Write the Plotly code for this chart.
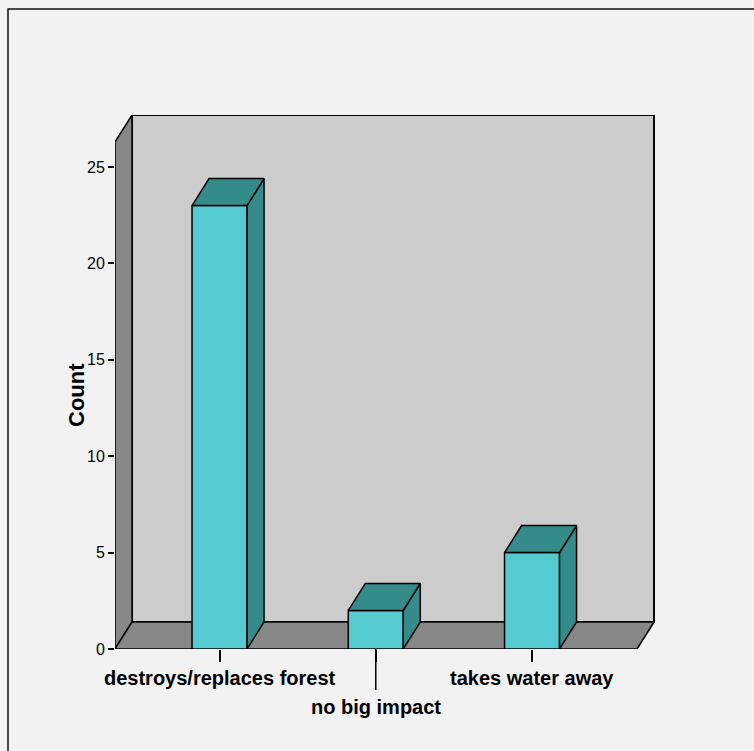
import plotly.graph_objects as go

# ---- data ----
categories = ["destroys/replaces forest", "no big impact", "takes water away"]
counts = [23, 2, 5]
y_tick_vals = [0, 5, 10, 15, 20, 25]
y_axis_title = "Count"

# ---- style / geometry constants ----
FRONT = "#53cbd0"
DARK = "#358a8a"
WALL_BACK = "#cccccc"
WALL_SIDE = "#878787"
BG = "#f2f2f2"
DX = 0.109      # depth offset along category axis
DY = 1.40       # depth offset along count axis
HALF = 0.176    # half bar width
X0, X1 = -0.669, 2.672   # front floor extent
YT = 26.3                # top of front-left wall edge
LW = 1.5
REG = "Liberation Sans, Arial, sans-serif"

# plot area in pixels
L, T, R, B = 115, 115, 655, 649
PW, PH = R - L, B - T

fig = go.Figure()

shapes = []
def path(xs, ys):
    return "M " + " L ".join(f"{x},{y}" for x, y in zip(xs, ys)) + " Z"

# back wall
shapes.append(dict(type="path", xref="x", yref="y", layer="below",
                   path=path([X0 + DX, X1 + DX, X1 + DX, X0 + DX], [DY, DY, YT + DY, YT + DY]),
                   fillcolor=WALL_BACK, line=dict(color="black", width=2)))
# left wall
shapes.append(dict(type="path", xref="x", yref="y", layer="below",
                   path=path([X0, X0 + DX, X0 + DX, X0], [0, DY, YT + DY, YT]),
                   fillcolor=WALL_SIDE, line=dict(color="black", width=LW)))
# floor
shapes.append(dict(type="path", xref="x", yref="y", layer="below",
                   path=path([X0, X1, X1 + DX, X0 + DX], [0, 0, DY, DY]),
                   fillcolor=WALL_SIDE, line=dict(color="black", width=LW)))

# outer frame
shapes.append(dict(type="rect", xref="paper", yref="paper",
                   x0=(8 - L) / PW, x1=1.3, y0=-0.3, y1=(B - 9) / PH,
                   line=dict(color="#111", width=1.5), layer="below"))

# long tick for staggered middle label
shapes.append(dict(type="line", xref="x", yref="paper", x0=1, x1=1,
                   y0=0, y1=-(690 - B) / PH, line=dict(color="black", width=1.5)))

xs = list(range(len(categories)))

# front faces
fig.add_trace(go.Bar(x=xs, y=counts, width=2 * HALF,
                     marker=dict(color=FRONT, line=dict(color="black", width=LW)),
                     hoverinfo="skip", showlegend=False))

# side and top faces
for c, v in zip(xs, counts):
    fig.add_trace(go.Scatter(
        x=[c + HALF, c + HALF + DX, c + HALF + DX, c + HALF, c + HALF],
        y=[0, DY, v + DY, v, 0], mode="lines", fill="toself", fillcolor=DARK,
        line=dict(color="black", width=LW), hoverinfo="skip", showlegend=False))
    fig.add_trace(go.Scatter(
        x=[c - HALF, c + HALF, c + HALF + DX, c - HALF + DX, c - HALF],
        y=[v, v, v + DY, v + DY, v], mode="lines", fill="toself", fillcolor=DARK,
        line=dict(color="black", width=LW), hoverinfo="skip", showlegend=False))

annotations = []
for i, (c, name) in enumerate(zip(xs, categories)):
    ypix = 678 if i % 2 == 0 else 707
    annotations.append(dict(x=c, xref="x", y=-(ypix - B) / PH, yref="paper",
                            text=f"<b>{name}</b>", showarrow=False, xanchor="center", yanchor="middle",
                            font=dict(family=REG, size=20, color="black")))
annotations.append(dict(x=(76 - L) / PW, xref="paper", y=(B - 395) / PH, yref="paper",
                        text=f"<b>{y_axis_title}</b>", textangle=-90, showarrow=False,
                        xanchor="center", yanchor="middle",
                        font=dict(family=REG, size=22, color="black")))

fig.update_layout(
    width=754, height=751,
    margin=dict(l=L, r=754 - R, t=T, b=751 - B, pad=0),
    paper_bgcolor=BG, plot_bgcolor="rgba(0,0,0,0)",
    shapes=shapes, annotations=annotations,
    showlegend=False,
    xaxis=dict(range=[X0, X1 + DX + 0.006], tickvals=xs, ticktext=["", "", ""],
               ticks="outside", ticklen=12, tickwidth=1.5, tickcolor="black",
               showgrid=False, zeroline=False, showline=False, fixedrange=True),
    yaxis=dict(range=[0, YT + DY], tickvals=y_tick_vals, ticks="outside", ticklen=6,
               tickwidth=1.5, tickcolor="black", showgrid=False, zeroline=False, showline=False,
               tickfont=dict(family=REG, size=16, color="black"),
               fixedrange=True),
)

fig.write_html("out.html", config={"displayModeBar": False},
               post_script="document.body.style.margin='0';document.body.style.background='#f2f2f2';")
